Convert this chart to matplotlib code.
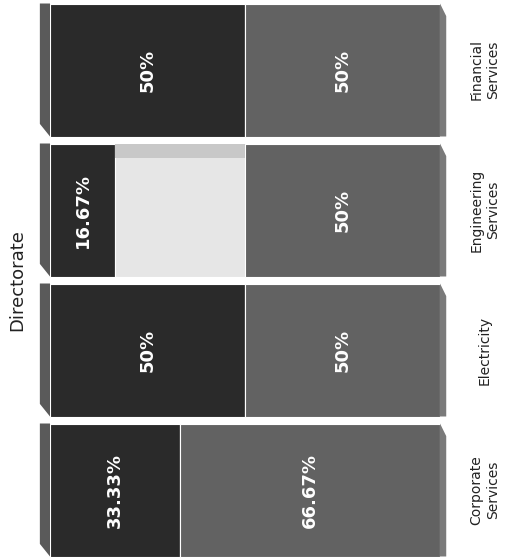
import numpy as np
import matplotlib.pyplot as plt
from matplotlib.patches import Polygon

# share of each directorate, by segment (percent), stacked left to right
directorates = ["Corporate\nServices", "Electricity", "Engineering\nServices", "Financial\nServices"]
seg_dark = [33.33, 50, 16.67, 50]
seg_light = [0, 0, 33.33, 0]
seg_grey = [66.67, 50, 50, 50]

colors = ["#2a2a2a", "#e6e6e6", "#626262"]
side_colors = ["#5a5a5a", "#cfcfcf", "#7a7a7a"]
show_label = [True, False, True]  # white text vanishes on the light segment
bar_h = 0.95

fig = plt.figure(figsize=(5.1, 5.6), dpi=100)
ax = fig.add_axes([50 / 510, 0, 390 / 510, 1])
ax.set_xlim(0, 100)
ax.set_ylim(-0.5, 3.5)
ax.axis("off")

y = np.arange(len(directorates))
left = np.zeros(len(directorates))
segments = [seg_dark, seg_light, seg_grey]

for vals, col, lab in zip(segments, colors, show_label):
    vals = np.array(vals, dtype=float)
    ax.barh(y, vals, left=left, height=bar_h, color=col,
            edgecolor="white", linewidth=0.8)
    if lab:
        for yi, l, v in zip(y, left, vals):
            if v > 0:
                ax.text(l + v / 2, yi, f"{v:g}%", rotation=90, ha="center",
                        va="center", color="white", fontsize=13,
                        fontweight="bold")
    left += vals

# fake 3d faces at both ends of every bar
d_left, d_right, bevel = 2.6, 1.6, 0.09
for yi, dk, lt, gr in zip(y, seg_dark, seg_light, seg_grey):
    top, bot = yi + bar_h / 2, yi - bar_h / 2
    first = 0 if dk > 0 else (1 if lt > 0 else 2)
    last = 2 if gr > 0 else (1 if lt > 0 else 0)
    ax.add_patch(Polygon([(0, top), (-d_left, top), (-d_left, bot + bevel), (0, bot)],
                         closed=True, facecolor=side_colors[first],
                         edgecolor="none", clip_on=False))
    ax.add_patch(Polygon([(100, bot), (100 + d_right, bot), (100 + d_right, top - bevel), (100, top)],
                         closed=True, facecolor=side_colors[last],
                         edgecolor="none", clip_on=False))

# shaded top edge on the light segment
for yi, dk, lt in zip(y, seg_dark, seg_light):
    if lt > 0:
        ax.barh(yi + bar_h / 2 - 0.05, lt, left=dk, height=0.1,
                color="#c8c8c8", edgecolor="none")

for yi, name in zip(y, directorates):
    ax.text(111.5, yi, name, rotation=90, ha="center", va="center",
            multialignment="center", fontsize=10, color="#222222",
            clip_on=False)

ax.text(-8.5, 1.5, "Directorate", rotation=90, ha="center", va="center",
        fontsize=13, color="#222222", clip_on=False)

fig.savefig("out.png", dpi=100, facecolor="white")
